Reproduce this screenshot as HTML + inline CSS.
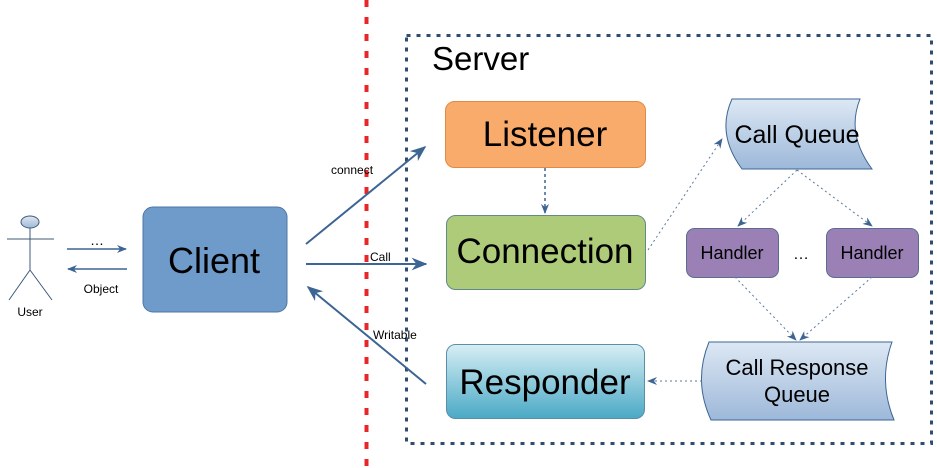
<!DOCTYPE html>
<html><head><meta charset="utf-8"><style>
html,body{margin:0;padding:0;background:#fff;}
svg{display:block;font-family:"Liberation Sans",Arial,sans-serif;}
</style></head><body>
<svg width="937" height="468" viewBox="0 0 937 468" xmlns="http://www.w3.org/2000/svg">
<defs>
<marker id="a" viewBox="0 0 10 10" refX="9" refY="5" markerWidth="8" markerHeight="8" orient="auto"><path d="M0,1 L10,5 L0,9 L3,5 z" fill="#3d6594"/></marker>
<marker id="b" viewBox="0 0 10 10" refX="9" refY="5" markerWidth="10" markerHeight="10" orient="auto" markerUnits="userSpaceOnUse"><path d="M0,1 L10,5 L0,9 L3,5 z" fill="#3d6594"/></marker>
<linearGradient id="q" x1="0" y1="0" x2="0" y2="1"><stop offset="0" stop-color="#dde8f4"/><stop offset="1" stop-color="#9db8d9"/></linearGradient>
<linearGradient id="r" x1="0" y1="0" x2="0" y2="1"><stop offset="0" stop-color="#d7eef4"/><stop offset="1" stop-color="#4aa9c6"/></linearGradient>
<linearGradient id="hd" x1="0" y1="0" x2="0" y2="1"><stop offset="0" stop-color="#dfe8f2"/><stop offset="1" stop-color="#9fb9d6"/></linearGradient>
</defs>
<line x1="366.5" y1="0" x2="366.5" y2="468" stroke="#e8262a" stroke-width="4" stroke-dasharray="7,10"/>
<rect x="406.5" y="35.5" width="525" height="408" fill="none" stroke="#2e4d70" stroke-width="3" stroke-dasharray="4,6"/>
<text x="432" y="70" font-size="33">Server</text>

<ellipse cx="30" cy="222" rx="9" ry="6" fill="url(#hd)" stroke="#3d5a7a"/>
<line x1="30" y1="228" x2="30" y2="270" stroke="#3d5a7a"/>
<line x1="7" y1="239" x2="54" y2="239" stroke="#3d5a7a"/>
<line x1="30" y1="270" x2="9" y2="300" stroke="#3d5a7a"/>
<line x1="30" y1="270" x2="52" y2="300" stroke="#3d5a7a"/>
<text x="30" y="316" font-size="12" text-anchor="middle">User</text>
<line x1="67" y1="249" x2="126" y2="249" stroke="#3d6594" stroke-width="1.5" marker-end="url(#b)"/>
<line x1="127" y1="269" x2="68" y2="269" stroke="#3d6594" stroke-width="1.5" marker-end="url(#b)"/>
<text x="97" y="245" font-size="14" text-anchor="middle">…</text>
<text x="101" y="293" font-size="12" text-anchor="middle">Object</text>

<rect x="143" y="207" width="144" height="105" rx="10" fill="#6f9bcb" stroke="#4d76a6"/>
<text x="214" y="273" font-size="36" text-anchor="middle">Client</text>

<line x1="306" y1="244" x2="425" y2="147" stroke="#3d6594" stroke-width="2" marker-end="url(#a)"/>
<line x1="306" y1="264" x2="426" y2="264" stroke="#3d6594" stroke-width="2" marker-end="url(#a)"/>
<line x1="426" y1="384" x2="308" y2="287" stroke="#3d6594" stroke-width="2" marker-end="url(#a)"/>
<text x="331" y="174" font-size="12">connect</text>
<text x="370" y="261" font-size="12">Call</text>
<text x="373" y="339" font-size="12">Writable</text>

<rect x="445.5" y="101.5" width="200" height="66" rx="9" fill="#f8ab6b" stroke="#e08a45"/>
<text x="545" y="146" font-size="35" text-anchor="middle">Listener</text>
<rect x="446.5" y="215.5" width="199" height="74" rx="9" fill="#aecb7a" stroke="#5f8b8a"/>
<text x="545" y="263" font-size="35" text-anchor="middle">Connection</text>
<rect x="446.5" y="344.5" width="198" height="74" rx="9" fill="url(#r)" stroke="#5a8fa8"/>
<text x="545" y="394" font-size="35" text-anchor="middle">Responder</text>
<line x1="545" y1="168" x2="545" y2="213" stroke="#3d6594" stroke-width="1.5" stroke-dasharray="3,3" marker-end="url(#b)"/>

<path d="M732,99 L860,99 Q846,134 872,169 L742,169 Q716,134 732,99 Z" fill="url(#q)" stroke="#3d6594"/>
<text x="797" y="143" font-size="25" text-anchor="middle">Call Queue</text>
<path d="M709,342 L892,342 Q878,381 894,420 L711,420 Q693,381 709,342 Z" fill="url(#q)" stroke="#3d6594"/>
<text x="797" y="375" font-size="22" text-anchor="middle">Call Response</text>
<text x="797" y="402" font-size="22" text-anchor="middle">Queue</text>

<rect x="686.5" y="228.5" width="92" height="49" rx="8" fill="#9a80b4" stroke="#5a6f8f"/>
<text x="732" y="259" font-size="18" text-anchor="middle">Handler</text>
<rect x="826.5" y="228.5" width="92" height="49" rx="8" fill="#9a80b4" stroke="#5a6f8f"/>
<text x="872" y="259" font-size="18" text-anchor="middle">Handler</text>
<text x="801" y="259" font-size="16" text-anchor="middle">…</text>

<g stroke="#5a7a9a" stroke-width="1" stroke-dasharray="2,3" fill="none">
<line x1="648" y1="250" x2="722" y2="139" marker-end="url(#b)"/>
<line x1="797" y1="170" x2="738" y2="226" marker-end="url(#b)"/>
<line x1="797" y1="170" x2="872" y2="226" marker-end="url(#b)"/>
<line x1="735" y1="277" x2="796" y2="340" marker-end="url(#b)"/>
<line x1="872" y1="277" x2="800" y2="340" marker-end="url(#b)"/>
<line x1="702" y1="381" x2="648" y2="381" marker-end="url(#b)"/>
</g>
</svg>
</body></html>
